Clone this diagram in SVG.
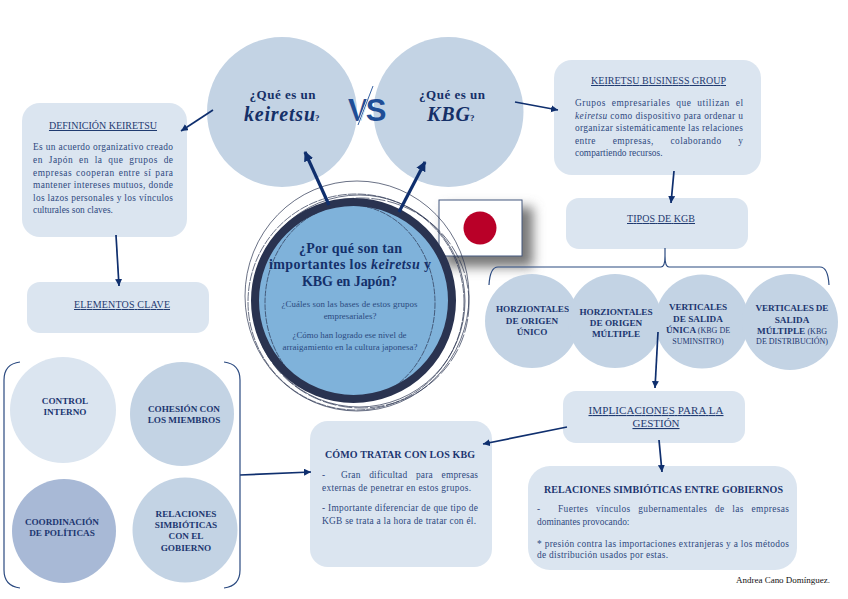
<svg xmlns="http://www.w3.org/2000/svg" width="848" height="599" viewBox="0 0 848 599">
<style>
text{font-family:"Liberation Serif","Times New Roman",serif;fill:#24407a}
.d{fill:#dbe5f0}.m{fill:#c3d3e4}.k{fill:#a8b9d6}
.t{font-size:10px;text-anchor:middle;text-decoration:underline;fill:#1f3a70}
.b{font-size:9.4px;fill:#2f4a80}
.h{font-size:9.2px;font-weight:bold;text-anchor:middle;fill:#1c3670}
.c{stroke:#0f2f6e;stroke-width:1.7;fill:none;marker-end:url(#a)}
.c2{stroke:#0f2f6e;stroke-width:3.2;fill:none;marker-end:url(#a2)}
.l{stroke:#2b4a80;stroke-width:1.2;fill:none}
.r{fill:none;stroke:#2a3350;stroke-width:.7}
.q{font-size:13px;font-weight:bold;text-anchor:middle;fill:#153068}
.s{font-size:8.9px;text-anchor:middle;fill:#2b4a80}
.p{font-size:14px;font-weight:bold;fill:#14306a}
.w{font-size:20px;font-weight:bold;font-style:italic;fill:#153068}
.n{font-size:9px;font-weight:bold;fill:#153068}
</style>
<defs>
<marker id="a" markerUnits="userSpaceOnUse" markerWidth="9" markerHeight="9" refX="7" refY="3.5" orient="auto"><path d="M0 0L7 3.5L0 7z" fill="#0f2f6e"/></marker>
<marker id="a2" markerUnits="userSpaceOnUse" markerWidth="12" markerHeight="12" refX="9" refY="5" orient="auto"><path d="M0 0L10 5L0 10z" fill="#0f2f6e"/></marker>
<filter id="sh" x="-30%" y="-30%" width="170%" height="170%"><feGaussianBlur stdDeviation="6"/></filter>
</defs>
<rect width="848" height="599" fill="#fff"/>

<g id="circle-keiretsu"><circle class="m" cx="282" cy="112" r="75"/>
<text class="q" x="282.500" y="99" textLength="66" lengthAdjust="spacing">¿Qué es un</text>
<text class="w" x="244" y="121" textLength="71" lengthAdjust="spacing">keiretsu</text><text class="n" x="315" y="121">?</text></g>
<g id="circle-kbg"><circle class="m" cx="448.500" cy="112" r="75"/>
<text class="q" x="452" y="99" textLength="66" lengthAdjust="spacing">¿Qué es un</text>
<text class="w" x="427" y="121" textLength="43" lengthAdjust="spacing">KBG</text><text class="n" x="470" y="121">?</text></g>
<g id="vs"><text x="348" y="121" style="font-family:'Liberation Sans',Arial,sans-serif;font-size:31px;font-weight:bold;fill:#1f4e96;letter-spacing:-3px">VS</text><line x1="373" y1="86" x2="358" y2="125" stroke="#fff" stroke-width="2.200"/><line x1="373" y1="86" x2="358" y2="125" stroke="#1f4e96" stroke-width=".9"/></g>

<g id="flag"><rect x="445" y="207" width="88" height="60" fill="#777" filter="url(#sh)"/><rect x="439" y="200" width="83" height="56" fill="#fff" stroke="#44587f" stroke-width="1"/><circle cx="480" cy="228" r="16.500" fill="#b90028"/></g>

<g id="center"><circle cx="353.500" cy="300.500" r="98.500" fill="#7fb2da" stroke="#2a3350" stroke-width="8"/>
<ellipse class="r" cx="357" cy="296" rx="112" ry="115"/><ellipse class="r" cx="356" cy="302" rx="108" ry="108" stroke-dasharray="9 1"/><ellipse class="r" cx="359" cy="301" rx="106" ry="106"/><ellipse class="r" cx="361" cy="303" rx="108" ry="105" stroke-dasharray="14 2"/><ellipse class="r" cx="350" cy="303" rx="85" ry="98" stroke-dasharray="6 1"/>
<text class="p" x="299" y="253" textLength="103" lengthAdjust="spacing">¿Por qué son tan</text>
<text class="p" x="269" y="269" textLength="162" lengthAdjust="spacing">importantes los <tspan font-style="italic">keiretsu</tspan> y</text>
<text class="p" x="302" y="286" textLength="95" lengthAdjust="spacing">KBG en Japón?</text>
<text class="s" x="349.500" y="307" textLength="136" lengthAdjust="spacing">¿Cuáles son las bases de estos grupos</text>
<text class="s" x="350" y="319">empresariales?</text>
<text class="s" x="349.500" y="338">¿Cómo han logrado ese nivel de</text>
<text class="s" x="350" y="350" textLength="135" lengthAdjust="spacing">arraigamiento en la cultura japonesa?</text></g>

<g id="definicion"><rect class="d" x="22" y="103" width="165" height="134" rx="18"/>
<text class="t" x="103" y="129">DEFINICIÓN KEIRETSU</text>
<text class="b" x="33" y="150" textLength="140" lengthAdjust="spacing">Es un acuerdo organizativo creado</text>
<text class="b" x="33" y="163" textLength="140" lengthAdjust="spacing" word-spacing="3">en Japón en la que grupos de</text>
<text class="b" x="33" y="176" textLength="140" lengthAdjust="spacing" word-spacing="1">empresas cooperan entre sí para</text>
<text class="b" x="33" y="188" textLength="140" lengthAdjust="spacing">mantener intereses mutuos, donde</text>
<text class="b" x="33" y="201" textLength="140" lengthAdjust="spacing">los lazos personales y los vínculos</text>
<text class="b" x="33" y="213">culturales son claves.</text></g>
<g id="elementos"><rect class="d" x="27" y="282" width="182" height="51" rx="13"/><text class="t" x="122" y="308" textLength="96" lengthAdjust="spacing">ELEMENTOS CLAVE</text></g>

<g id="business"><rect class="d" x="554" y="60" width="207" height="115" rx="18"/>
<text class="t" x="658.500" y="84" textLength="135" lengthAdjust="spacing">KEIRETSU BUSINESS GROUP</text>
<text class="b" x="575" y="106" textLength="168" lengthAdjust="spacing" word-spacing="3">Grupos empresariales que utilizan el</text>
<text class="b" x="575" y="119" textLength="168" lengthAdjust="spacing"><tspan font-style="italic">keiretsu</tspan> como dispositivo para ordenar u</text>
<text class="b" x="575" y="131" textLength="168" lengthAdjust="spacing">organizar sistemáticamente las relaciones</text>
<text class="b" x="575" y="144" textLength="168" lengthAdjust="spacing" word-spacing="14">entre empresas, colaborando y</text>
<text class="b" x="575" y="156">compartiendo recursos.</text></g>
<g id="tipos"><rect class="d" x="566" y="198" width="182" height="51" rx="13"/><text class="t" x="661" y="222" textLength="68" lengthAdjust="spacing">TIPOS DE KGB</text></g>

<g id="tipo1"><circle class="m" cx="532" cy="321" r="47"/><text class="h" x="532.500" y="312" textLength="73" lengthAdjust="spacing">HORZIONTALES</text><text class="h" x="532" y="324">DE ORIGEN</text><text class="h" x="532" y="335">ÚNICO</text></g>
<g id="tipo2"><circle class="m" cx="615" cy="321" r="47"/><text class="h" x="616" y="315" textLength="73" lengthAdjust="spacing">HORZIONTALES</text><text class="h" x="616" y="326">DE ORIGEN</text><text class="h" x="616" y="337">MÚLTIPLE</text></g>
<g id="tipo3"><circle class="m" cx="702" cy="321.500" r="47"/><text class="h" x="698" y="310" textLength="58" lengthAdjust="spacing">VERTICALES</text><text class="h" x="698" y="322">DE SALIDA</text><text class="h" x="698" y="333">ÚNICA <tspan style="font-size:8px;font-weight:normal">(KBG DE</tspan></text><text class="h" x="698" y="344" style="font-size:8px;font-weight:normal">SUMINSITRO)</text></g>
<g id="tipo4"><circle class="m" cx="790" cy="322" r="48"/><text class="h" x="792" y="311" textLength="73" lengthAdjust="spacing">VERTICALES DE</text><text class="h" x="792" y="323">SALIDA</text><text class="h" x="792" y="334">MÚLTIPLE <tspan style="font-size:8px;font-weight:normal">(KBG</tspan></text><text class="h" x="792" y="344" style="font-size:8px;font-weight:normal">DE DISTRIBUCIÓN)</text></g>

<g id="implicaciones"><rect class="d" x="563" y="391" width="182" height="52" rx="13"/><text class="t" x="656" y="414" style="font-size:11px" textLength="135" lengthAdjust="spacing">IMPLICACIONES PARA LA</text><text class="t" x="656" y="427" style="font-size:11px">GESTIÓN</text></g>

<g id="tratar"><rect class="d" x="310" y="421" width="182" height="146" rx="18"/>
<text class="h" x="400" y="458" style="font-size:10px" textLength="150" lengthAdjust="spacing">CÓMO TRATAR CON LOS KBG</text>
<text class="b" x="322" y="478">-</text><text class="b" x="341" y="478" textLength="137" lengthAdjust="spacing" word-spacing="6">Gran dificultad para empresas</text>
<text class="b" x="322" y="491" textLength="149" lengthAdjust="spacing">externas de penetrar en estos grupos.</text>
<text class="b" x="322" y="511" textLength="156" lengthAdjust="spacing">- Importante diferenciar de que tipo de</text>
<text class="b" x="322" y="524" textLength="154" lengthAdjust="spacing">KGB se trata a la hora de tratar con él.</text></g>

<g id="relaciones-box"><rect class="d" x="528" y="466" width="269" height="104" rx="22"/>
<text class="h" x="663.500" y="493" style="font-size:10px" textLength="239" lengthAdjust="spacing">RELACIONES SIMBIÓTICAS ENTRE GOBIERNOS</text>
<text class="b" x="537" y="512">-</text><text class="b" x="558" y="512" textLength="231" lengthAdjust="spacing" word-spacing="5">Fuertes vínculos gubernamentales de las empresas</text>
<text class="b" x="537" y="525">dominantes provocando:</text>
<text class="b" x="537" y="547" textLength="252" lengthAdjust="spacing">* presión contra las importaciones extranjeras y a los métodos</text>
<text class="b" x="537" y="558" textLength="131" lengthAdjust="spacing">de distribución usados por estas.</text></g>

<g id="control"><circle class="d" cx="63" cy="410" r="53"/><text class="h" x="65" y="404">CONTROL</text><text class="h" x="65" y="415">INTERNO</text></g>
<g id="cohesion"><circle class="m" cx="182" cy="414" r="52"/><text class="h" x="184" y="412" textLength="72" lengthAdjust="spacing">COHESIÓN CON</text><text class="h" x="184" y="423">LOS MIEMBROS</text></g>
<g id="coordinacion"><circle class="k" cx="64" cy="531" r="52"/><text class="h" x="62" y="525" textLength="74" lengthAdjust="spacing">COORDINACIÓN</text><text class="h" x="62" y="536">DE POLÍTICAS</text></g>
<g id="relaciones"><circle class="m" cx="185" cy="530" r="52.500"/><text class="h" x="186" y="517">RELACIONES</text><text class="h" x="186" y="528">SIMBIÓTICAS</text><text class="h" x="186" y="539">CON EL</text><text class="h" x="186" y="551">GOBIERNO</text></g>

<g id="autor"><text x="736" y="583" style="font-size:9px;fill:#111" textLength="94" lengthAdjust="spacing">Andrea Cano Domínguez.</text></g>

<g id="connectors">
<line class="c" x1="213" y1="110" x2="181" y2="131"/>
<line class="c" x1="116" y1="235" x2="119" y2="286"/>
<line class="c2" x1="329" y1="205" x2="305" y2="152"/>
<line class="c2" x1="399" y1="212" x2="425" y2="162"/>
<line class="c" x1="515" y1="102" x2="558" y2="110"/>
<line class="c" x1="674" y1="171" x2="671" y2="203"/>
<line class="c" x1="658" y1="332" x2="655" y2="388"/>
<line class="c" x1="567" y1="427" x2="483" y2="444"/>
<line class="c" x1="659" y1="440" x2="662" y2="472"/>
<line class="c" x1="240" y1="475" x2="311" y2="472"/>
<path class="l" d="M665 248V256Q665 267 661 267H498Q490 267 489 285M665 248V256Q665 267 669 267H820Q828 267 829 285"/>
<path class="l" d="M20 362Q4 364 4 380V570Q4 586 20 588M224 362Q240 364 240 380V570Q240 586 224 588"/>
</g>
</svg>
